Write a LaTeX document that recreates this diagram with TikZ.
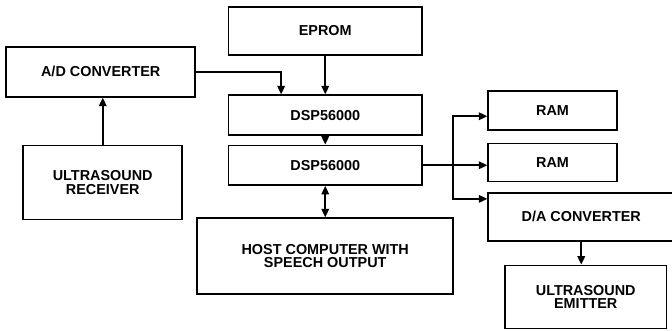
\documentclass[tikz,border=0pt]{standalone}
\usepackage{fontspec}
\setmainfont{Liberation Sans}
\usepackage{tikz}
\usetikzlibrary{arrows.meta,positioning}

\begin{document}
\begin{tikzpicture}[
    box/.style={rectangle, draw, line width=1pt, inner sep=1pt, align=center,
        font=\bfseries\fontsize{8.2}{7.6}\selectfont},
    arrow/.style={-{Triangle[length=0.17cm,width=0.15cm]}, line width=1pt},
    biarrow/.style={{Triangle[length=0.17cm,width=0.15cm]}-{Triangle[length=0.17cm,width=0.15cm]}, line width=1pt}
]
\useasboundingbox (-6.505,0.62) rectangle (6.935,-6.0);

% Processor column
\node[box, minimum width=3.87cm, minimum height=0.96cm] (eprom) at (0,0) {EPROM};
\node[box, minimum width=3.87cm, minimum height=0.8cm, below=0.77cm of eprom] (dsp1) {DSP56000};
\node[box, minimum width=3.87cm, minimum height=0.79cm, below=0.17cm of dsp1] (dsp2) {DSP56000};
\node[box, minimum width=5.12cm, minimum height=1.52cm, below=0.63cm of dsp2] (host) {HOST COMPUTER WITH\\SPEECH OUTPUT};

% Input side
\node[box, minimum width=3.78cm, minimum height=1.0cm, left=0.63cm of dsp1, yshift=0.87cm] (adc) {A/D CONVERTER};
\node[box, minimum width=3.18cm, minimum height=1.48cm, below=0.94cm of adc, xshift=0.04cm] (receiver) {ULTRASOUND\\RECEIVER};

% Output side
\node[box, minimum width=2.57cm, minimum height=0.78cm, right=1.29cm of dsp1, yshift=0.09cm] (ram1) {RAM};
\node[box, minimum width=2.57cm, minimum height=0.76cm, below=0.23cm of ram1] (ram2) {RAM};
\node[box, minimum width=3.72cm, minimum height=0.96cm, below=0.19cm of ram2.south west, anchor=north west] (dac) {D/A CONVERTER};
\node[box, minimum width=3.23cm, minimum height=1.26cm, below=0.46cm of dac, xshift=0.09cm] (emitter) {ULTRASOUND\\EMITTER};

\coordinate[right=0.6cm of dsp2.east] (split);

% Connections
\draw[arrow] (receiver.north) -- (receiver.north |- adc.south);
\draw[arrow] (adc.east) -| ([xshift=1.07cm]dsp1.north west);
\draw[arrow] (eprom) -- (dsp1);
\draw[arrow] (dsp1) -- (dsp2);
\draw[biarrow] (dsp2) -- (host);
\draw[arrow] (dsp2.east) -- (dsp2.east -| ram2.west);
\draw[arrow] (split) |- ([yshift=-0.11cm]ram1.west);
\draw[arrow] (split) |- ([yshift=-0.14cm]dac.north west);
\draw[arrow] (dac.south) -- (dac.south |- emitter.north);

\end{tikzpicture}
\end{document}
